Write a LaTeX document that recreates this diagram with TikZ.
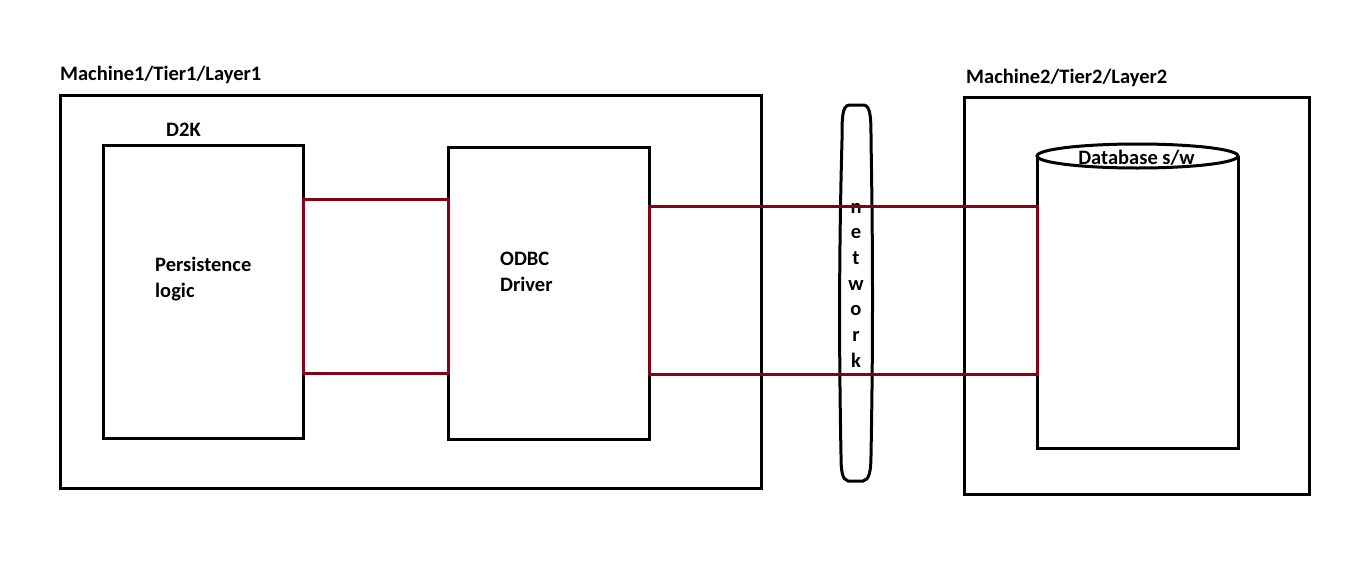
\documentclass[tikz,border=0pt]{standalone}
\usepackage{fontspec}
\setmainfont{Carlito}
\definecolor{linkred}{RGB}{136,0,21}
\begin{document}
\begin{tikzpicture}[x=1pt,y=-1pt,
  box/.style={draw=black, line width=3pt, inner sep=0pt, outer sep=0pt},
  area/.style={inner sep=0pt, outer sep=0pt},
  outline/.style={draw=black, line width=3pt},
  lbl/.style={font=\fontsize{20.5}{26}\selectfont\bfseries, inner sep=0pt, anchor=base west},
  link/.style={draw=linkred, line width=3pt}]
\useasboundingbox (0,0) rectangle (1360,581);
% machine 1
\node[box, minimum width=701pt, minimum height=393pt] (m1) at (410.5,291.5) {};
\node[box, minimum width=200pt, minimum height=293pt] (d2k) at (203,291.5) {};
\node[box, minimum width=201pt, minimum height=292pt] (odbc) at (548.5,293) {};
% machine 2
\node[box, minimum width=345pt, minimum height=397pt] (m2) at (1136.5,295.5) {};
\node[area, minimum width=201pt, minimum height=292pt] (db) at (1137.5,302) {};
\draw[outline] (db.north west) -- (db.south west) -- (db.south east) -- (db.north east);
\draw[outline, fill=white] (db.north) ellipse [x radius=100.5pt, y radius=12pt];
% network
\node[area, minimum width=32pt, minimum height=376pt] (net) at (856,293) {};
\draw[outline] (849,105) -- (864,105)
  .. controls (871,106) and (871,120) .. (871,140)
  .. controls (873,250) and (873,350) .. (871,455)
  .. controls (871,472) and (869,480) .. (863,481)
  -- (848,481)
  .. controls (842,480) and (841,470) .. (841,455)
  .. controls (839,350) and (839,250) .. (842,140)
  .. controls (842,118) and (842,106) .. (849,105) -- cycle;
% labels
\node[lbl] (t1) at (60,80) {Machine1/Tier1/Layer1};
\node[lbl] (t2) at (966,83) {Machine2/Tier2/Layer2};
\node[lbl] (t3) at (166,136) {D2K};
\node[lbl] (t4) at (155,271) {Persistence};
\node[lbl] (t5) at (155,297) {logic};
\node[lbl] (t6) at (500,265) {ODBC};
\node[lbl] (t7) at (500,291) {Driver};
\node[lbl, anchor=base] (t8) at (1136.5,164) {Database s/w};
\foreach \c [count=\i from 0] in {n,e,t,w,o,r,k}
  \node[lbl, anchor=base] (net\i) at (856,213+25.7*\i) {\c};
% connectors
\draw[link] (d2k.east |- 0,199) rectangle (odbc.west |- 0,373);
\draw[link] (odbc.east |- 0,206) rectangle (db.west |- 0,374);
\end{tikzpicture}
\end{document}
